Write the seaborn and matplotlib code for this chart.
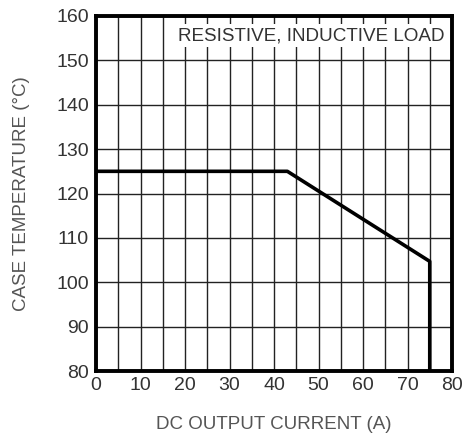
import matplotlib
matplotlib.use("Agg")
import matplotlib.pyplot as plt
import seaborn as sns
import pandas as pd
import numpy as np

current = [0, 43, 75, 75]
temperature = [125, 125, 104.7, 80]
x_ticks = [0, 10, 20, 30, 40, 50, 60, 70, 80]
y_ticks = [80, 90, 100, 110, 120, 130, 140, 150, 160]
annotation = "RESISTIVE, INDUCTIVE LOAD"

sns.set_theme(style="white")
plt.rcParams['font.family'] = ['Liberation Sans', 'DejaVu Sans']

df = pd.DataFrame({"current": current, "temp": temperature})

fig = plt.figure(figsize=(4.62, 4.34), dpi=100)
ax = fig.add_axes([96/462, 1 - 371/434, 356/462, 355/434])

ax.set_xlim(0, 80)
ax.set_ylim(80, 160)
ax.set_xticks(x_ticks)
ax.set_yticks(y_ticks)
ax.set_xticks(np.arange(0, 81, 5), minor=True)
ax.grid(True, which="both", axis="x", color="#222222", linewidth=1.0)
ax.grid(True, which="major", axis="y", color="#222222", linewidth=1.0)
ax.set_axisbelow(True)

sns.lineplot(data=df, x="current", y="temp", sort=False, estimator=None,
             color="black", linewidth=2.6, ax=ax, zorder=5)

for s in ax.spines.values():
    s.set_visible(True)
    s.set_color("black")
    s.set_linewidth(2.8)
    s.set_zorder(6)

ax.tick_params(axis="both", which="both", length=0, labelsize=14,
               colors="#333333")
ax.tick_params(axis="x", pad=4)
ax.tick_params(axis="y", pad=5)
ax.set_xlabel("DC OUTPUT CURRENT (A)", fontsize=13.5, color="#555555", labelpad=16)
ax.set_ylabel("CASE TEMPERATURE (°C)", fontsize=13.5, color="#555555", labelpad=19)

ax.text(0.978, 0.945, annotation, transform=ax.transAxes, ha="right", va="center",
        fontsize=13.6, color="#333333", zorder=7,
        bbox=dict(facecolor="white", edgecolor="none", pad=2))

fig.savefig("out.png", dpi=100)
